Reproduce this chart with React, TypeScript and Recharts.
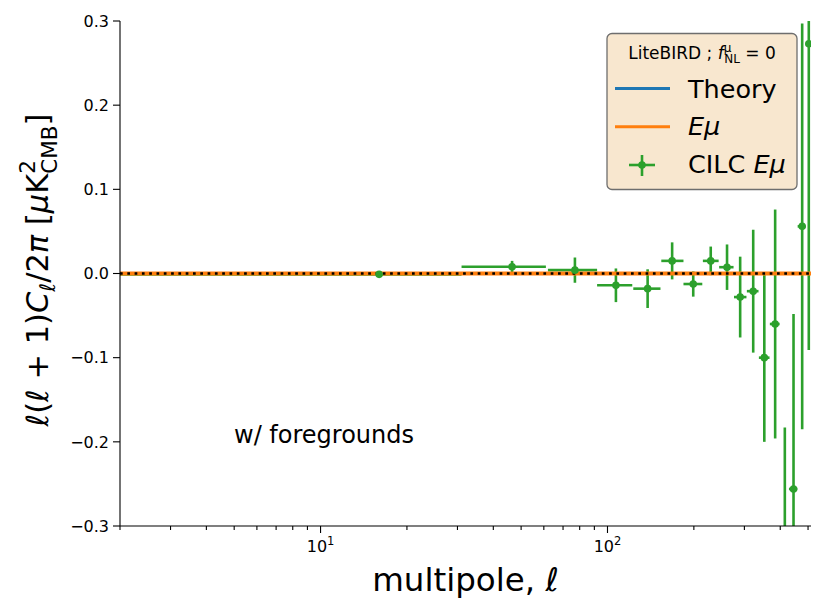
import React from 'react';
import { ComposedChart, Scatter, Line, XAxis, YAxis, ErrorBar } from 'recharts';

// ---- data ----
const binCenters = [16, 46.5, 77, 107, 138, 168, 199, 229, 261, 290, 322, 352, 384, 415, 445, 477, 503];
const binLow = [2, 31, 62, 92, 123, 154, 184, 215, 245, 276, 306, 337, 368, 399, 429, 460, 491];
const binHigh = [31, 61, 92, 122, 153, 184, 214, 244, 275, 305, 336, 367, 398, 428, 459, 490, 521];
const cilcValues = [-0.001, 0.008, 0.004, -0.014, -0.018, 0.015, -0.0125, 0.015, 0.0075, -0.028, -0.021, -0.1, -0.06, -0.4, -0.256, 0.056, 0.273];
const cilcErrors = [0.002, 0.007, 0.015, 0.02, 0.023, 0.022, 0.015, 0.017, 0.027, 0.048, 0.073, 0.1, 0.136, 0.217, 0.208, 0.241, 0.364];

const theoryEll = [2, 512];
const theoryValues = [0, 0];
const eMuValues = [0, 0];

const xTicks = [2, 3, 4, 5, 6, 7, 8, 9, 10, 20, 30, 40, 50, 60, 70, 80, 90, 100, 200, 300, 400, 500];
const xTickLabels: Record<number, string> = { 10: '1', 100: '2' };
const yTicks = [-0.3, -0.2, -0.1, 0, 0.1, 0.2, 0.3];

const GREEN = '#2ca02c';
const ORANGE = '#ff7f0e';
const BLUE = '#1f77b4';
const FONT = 'DejaVu Sans, Verdana, sans-serif';

const cilcData = binCenters.map((ell, i) => ({
  ell,
  value: cilcValues[i],
  xErr: [ell - binLow[i], binHigh[i] - ell],
  yErr: cilcErrors[i],
}));
const theoryData = theoryEll.map((ell, i) => ({ ell, value: theoryValues[i] }));
const eMuData = theoryEll.map((ell, i) => ({ ell, value: eMuValues[i] }));

const fmtY = (v: number) => {
  const s = Math.abs(v).toFixed(1);
  return v < 0 ? '\u2212' + s : s;
};

const XTick = (props: any) => {
  const { x, y, payload } = props;
  const v = payload.value;
  const lab = xTickLabels[v];
  return (
    <g>
      <line x1={x} x2={x} y1={y} y2={y + (lab ? 7 : 4)} stroke="#000" strokeWidth={1.1} />
      {lab && (
        <text x={x} y={y + 26} textAnchor="middle" fontSize={16} fontFamily={FONT} fill="#000">
          10<tspan fontSize={11.5} dy={-7}>{lab}</tspan>
        </text>
      )}
    </g>
  );
};

const YTick = (props: any) => {
  const { x, y, payload } = props;
  return (
    <g>
      <line x1={x - 7} x2={x} y1={y} y2={y} stroke="#000" strokeWidth={1.1} />
      <text x={x - 11} y={y + 5.8} textAnchor="end" fontSize={16} fontFamily={FONT} fill="#000">
        {fmtY(payload.value)}
      </text>
    </g>
  );
};

const Dot = (props: any) => {
  const { cx, cy } = props;
  if (cx == null || cy == null) return null;
  return <circle cx={cx} cy={cy} r={3.8} fill={GREEN} />;
};

export default function App() {
  return (
    <div style={{ position: 'absolute', left: 0, top: 0, width: 831, height: 612, background: '#fff' }}>
      <style>{'.recharts-errorBars, .recharts-errorBar { clip-path: url(#plotAreaClip); }'}</style>
      <ComposedChart
        width={831}
        height={612}
        margin={{ top: 21, right: 20, bottom: 0, left: 0 }}
        style={{ fontFamily: FONT }}
      >
        <XAxis
          dataKey="ell"
          type="number"
          scale="log"
          domain={[2, 512]}
          allowDataOverflow
          ticks={xTicks}
          interval={0}
          height={86}
          tickSize={0}
          tickMargin={0}
          tickLine={false}
          tick={<XTick />}
          axisLine={{ stroke: '#000', strokeWidth: 1.1 }}
        />
        <XAxis
          xAxisId="top"
          orientation="top"
          dataKey="ell"
          type="number"
          scale="log"
          domain={[2, 512]}
          allowDataOverflow
          height={0}
          tick={false}
          tickLine={false}
          axisLine={{ stroke: '#000', strokeWidth: 1.1 }}
        />
        <YAxis
          type="number"
          domain={[-0.3, 0.3]}
          allowDataOverflow
          ticks={yTicks}
          interval={0}
          width={120}
          tickSize={0}
          tickMargin={0}
          tickLine={false}
          tick={<YTick />}
          axisLine={{ stroke: '#000', strokeWidth: 1.1 }}
        />
        <YAxis
          yAxisId="right"
          orientation="right"
          type="number"
          domain={[-0.3, 0.3]}
          width={0}
          tick={false}
          tickLine={false}
          axisLine={{ stroke: '#000', strokeWidth: 1.1 }}
        />
        <Scatter
          name="CILC Eμ"
          data={cilcData}
          dataKey="value"
          fill={GREEN}
          shape={<Dot />}
          isAnimationActive={false}
        >
          <ErrorBar dataKey="xErr" direction="x" width={0} stroke={GREEN} strokeWidth={2.6} isAnimationActive={false} />
          <ErrorBar dataKey="yErr" direction="y" width={0} stroke={GREEN} strokeWidth={2.6} isAnimationActive={false} />
        </Scatter>
        <Line
          name="Theory"
          data={theoryData}
          dataKey="value"
          stroke={BLUE}
          strokeWidth={3}
          dot={false}
          activeDot={false}
          isAnimationActive={false}
        />
        <Line
          name="Eμ"
          data={eMuData}
          dataKey="value"
          stroke={ORANGE}
          strokeWidth={4}
          dot={false}
          activeDot={false}
          isAnimationActive={false}
        />
        <Line
          name="dotted"
          data={eMuData}
          dataKey="value"
          stroke="#000"
          strokeWidth={2.6}
          strokeDasharray="2.7 4.6"
          dot={false}
          activeDot={false}
          isAnimationActive={false}
        />
      </ComposedChart>

      <svg
        width={831}
        height={612}
        style={{ position: 'absolute', left: 0, top: 0, pointerEvents: 'none' }}
        fontFamily={FONT}
      >
        <defs>
          <clipPath id="plotAreaClip" clipPathUnits="userSpaceOnUse">
            <rect x={120} y={21} width={691} height={505} />
          </clipPath>
        </defs>
        {/* axis labels */}
        <text x={465.5} y={591} textAnchor="middle" fontSize={32.5} fill="#000">
          multipole, <tspan fontStyle="italic">ℓ</tspan>
        </text>
        <text transform="translate(48,270) rotate(-90)" textAnchor="middle" fontSize={30.5} fill="#000">
          <tspan fontStyle="italic">ℓ</tspan>(<tspan fontStyle="italic">ℓ</tspan> + 1)<tspan fontStyle="italic">C</tspan>
          <tspan fontStyle="italic" fontSize={21.5} dy={7}>ℓ</tspan>
          <tspan dy={-7}>/2</tspan>
          <tspan fontStyle="italic">π</tspan> [<tspan fontStyle="italic">μ</tspan>K
          <tspan fontSize={21.5} dy={-13}>2</tspan>
          <tspan fontSize={21.5} dx={-13.7} dy={22}>CMB</tspan>
          <tspan dy={-9}>]</tspan>
        </text>

        {/* annotation */}
        <text x={234} y={443} fontSize={24} fill="#000">w/ foregrounds</text>

        {/* legend */}
        <rect x={607} y={33.5} width={190} height={156} rx={5} ry={5} fill="#f8e7cf" stroke="#6e6e6e" strokeWidth={1.3} />
        <text x={702} y={59} textAnchor="middle" fontSize={17} fill="#000">
          LiteBIRD ; <tspan fontStyle="italic">f</tspan>
          <tspan fontSize={12} dy={-7}>μ</tspan>
          <tspan fontSize={12} dx={-7} dy={11}>NL</tspan>
          <tspan dy={-4}> = 0</tspan>
        </text>
        <line x1={615} x2={670} y1={88.5} y2={88.5} stroke={BLUE} strokeWidth={3} />
        <text x={688} y={98} fontSize={25.5} fill="#000">Theory</text>
        <line x1={615} x2={670} y1={126.7} y2={126.7} stroke={ORANGE} strokeWidth={3} />
        <text x={688} y={134.5} fontSize={25.5} fill="#000" fontStyle="italic">Eμ</text>
        <line x1={629} x2={655} y1={165} y2={165} stroke={GREEN} strokeWidth={2.6} />
        <line x1={642} x2={642} y1={155} y2={176} stroke={GREEN} strokeWidth={2.6} />
        <circle cx={642} cy={165} r={3.8} fill={GREEN} />
        <text x={688} y={173} fontSize={25.5} fill="#000">
          CILC <tspan fontStyle="italic">Eμ</tspan>
        </text>
      </svg>
    </div>
  );
}
